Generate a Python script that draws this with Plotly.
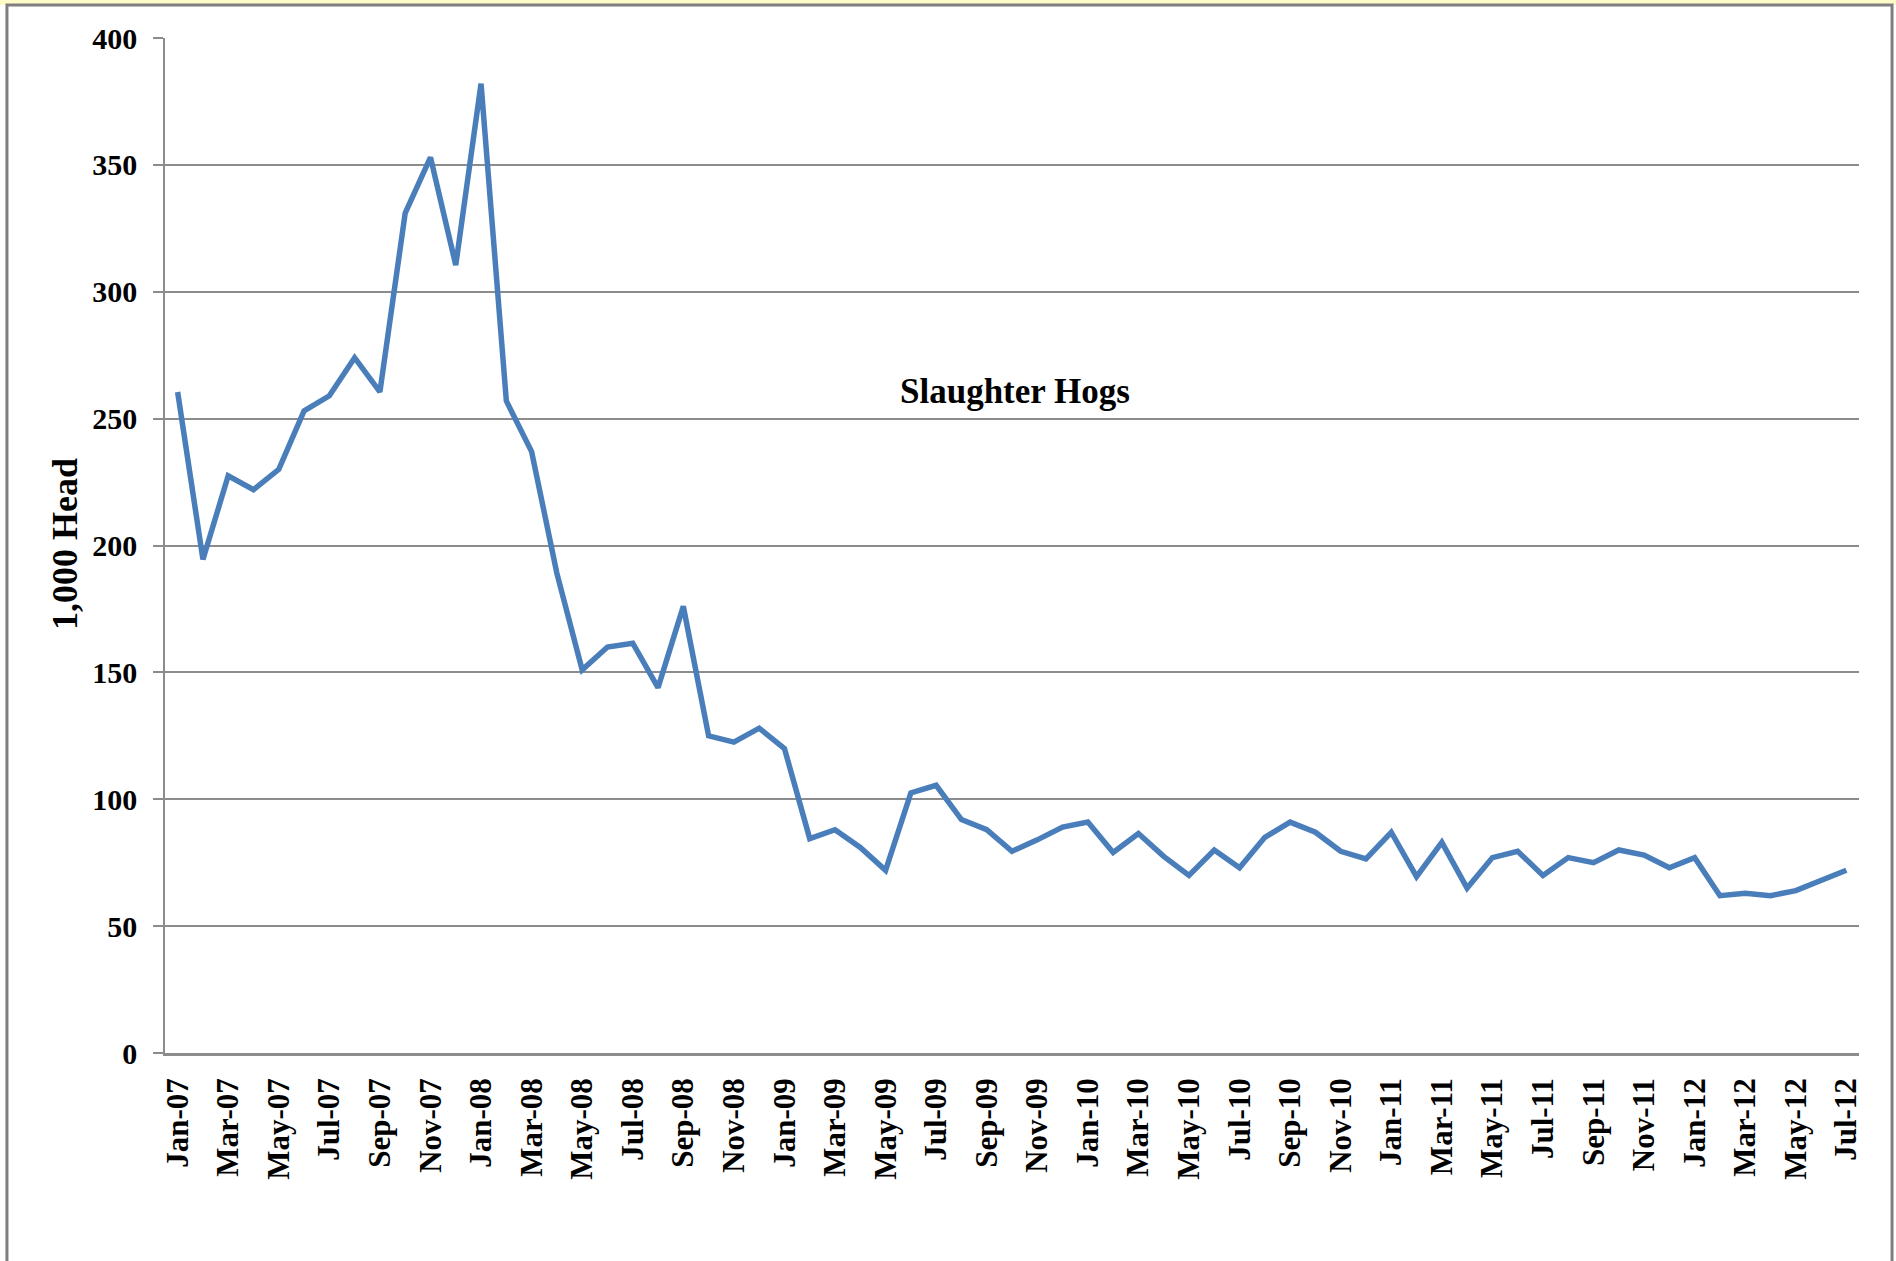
import plotly.graph_objects as go
import pandas as pd

months = [d.strftime("%b-%y") for d in pd.date_range("2007-01-01", "2012-07-01", freq="MS")]

hogs = [260.5, 194.5, 227.5, 222, 230, 253, 259, 274, 260.5, 331, 353, 310.5,
        382, 257, 237, 189, 151, 160, 161.5, 144, 176, 125, 122.5, 128,
        120, 84.5, 88, 81, 72, 102.5, 105.5, 92, 88, 79.5, 84, 89,
        91, 79, 86.5, 77.5, 70, 80, 73, 85, 91, 87, 79.5, 76.5,
        87, 69.5, 83, 65, 77, 79.5, 70, 77, 75, 80, 78, 73,
        77, 62, 63, 62, 64, 68, 72]

y_ticks = [0, 50, 100, 150, 200, 250, 300, 350, 400]
tick_labels = months[::2]

FONT = "Liberation Serif"
GRID = "#8c8c8c"

fig = go.Figure()
fig.add_trace(go.Scatter(x=months, y=hogs, mode="lines",
                         line=dict(color="#4A7EBB", width=5.5), showlegend=False))

fig.update_layout(
    width=1896, height=1261,
    margin=dict(l=165, r=37, t=38, b=208, pad=0),
    paper_bgcolor="white", plot_bgcolor="white",
    xaxis=dict(type="category", range=[-0.5, len(months) - 0.5],
               tickmode="array", tickvals=tick_labels, ticktext=tick_labels,
               tickangle=-90, showgrid=False, ticks="",
               showline=True, linecolor=GRID, linewidth=2.5,
               tickfont=dict(family=FONT, size=31, color="black", weight="bold"),
               ticklabelstandoff=10),
    yaxis=dict(range=[0, 400], tickmode="array", tickvals=y_ticks,
               showgrid=True, gridcolor=GRID, gridwidth=2,
               zeroline=False, showline=True, linecolor=GRID, linewidth=1.5,
               ticks="outside", ticklen=10, tickcolor=GRID, tickwidth=1.5,
               tickfont=dict(family=FONT, size=30, color="black", weight="bold"),
               ticklabelstandoff=10),
    annotations=[
        dict(text="Slaughter Hogs", x=0.5018, y=0.652, xref="paper", yref="paper",
             showarrow=False, xanchor="center", yanchor="middle",
             font=dict(family=FONT, size=35, color="black", weight="bold")),
        dict(text="1,000 Head", x=-0.059, y=0.5015, xref="paper", yref="paper",
             showarrow=False, xanchor="center", yanchor="middle", textangle=-90,
             font=dict(family=FONT, size=36, color="black", weight="bold")),
    ],
    shapes=[
        dict(type="rect", xref="paper", yref="paper", x0=-0.3, x1=1.3,
             y0=1.0325, y1=1.08, fillcolor="#FFFBC7", line=dict(width=0), layer="above"),
        dict(type="rect", xref="paper", yref="paper", x0=-0.0933, x1=1.0195,
             y0=-0.2138, y1=1.0325, fillcolor="rgba(0,0,0,0)",
             line=dict(color="#7f7f7f", width=3), layer="above"),
    ],
)

fig.write_html("out.html", config={"displayModeBar": False},
               post_script="document.body.style.margin='0';document.body.style.overflow='hidden';")
